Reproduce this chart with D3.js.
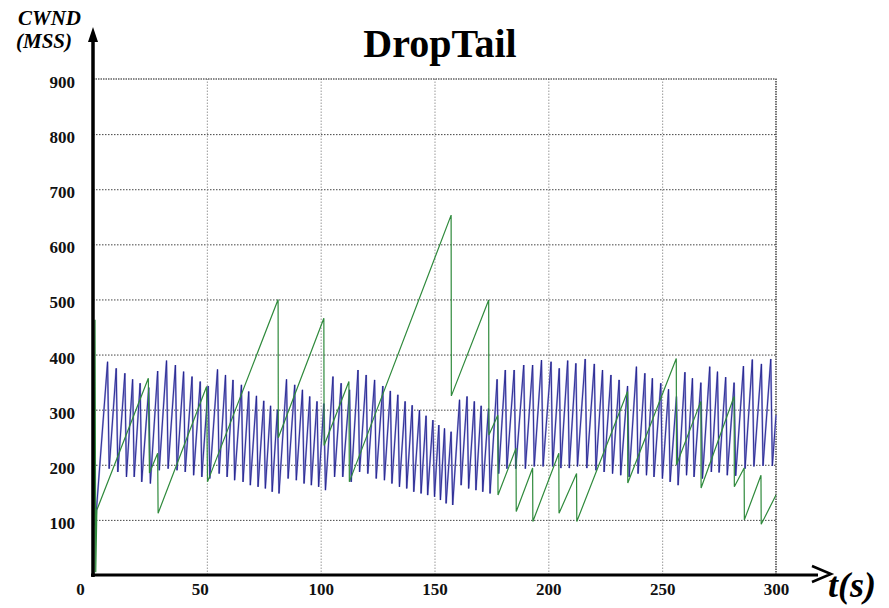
<!DOCTYPE html>
<html>
<head>
<meta charset="utf-8">
<script src="https://cdn.jsdelivr.net/npm/d3@7"></script>
<style>
	body { margin: 0; background: #fff; }
	svg { display: block; }
	text { font-family: 'Liberation Serif', 'Times New Roman', serif; }
	.tick text { font-size: 17px; font-weight: bold; fill: #111; }
</style>
</head>
<body>
<svg id="svgChart" width="889" height="608"></svg>
<script>
'use strict';

const chartTitle = 'DropTail';
const xTicks = [0, 50, 100, 150, 200, 250, 300];
const yTicks = [100, 200, 300, 400, 500, 600, 700, 800, 900];

// blue flow: peaks and troughs of each sawtooth, [t (s), cwnd (MSS)]
const bluePeaks = [
	[6.4, 387], [10.2, 375], [14.0, 366], [17.4, 355], [20.7, 348], [24.5, 340], [28.4, 370], [32.3, 389],
	[36.2, 381], [39.8, 369], [43.5, 360], [47.1, 351], [50.6, 343],
	[54.7, 373], [58.2, 363], [61.5, 354], [65.2, 345], [68.4, 333], [71.8, 325], [75.0, 316], [78.0, 307],
	[81.0, 300], [85.0, 355], [88.6, 345], [92.0, 336], [95.2, 324], [98.4, 315], [101.4, 311],
	[105.4, 360], [109.0, 348], [112.7, 336], [116.4, 372], [120.0, 363], [123.7, 354], [127.3, 343], [130.6, 334],
	[133.9, 327], [137.1, 315], [140.2, 308], [143.4, 299], [146.3, 289], [149.3, 281], [151.9, 272],
	[154.4, 266], [157.3, 260], [161.0, 318], [164.3, 324], [167.5, 315], [170.5, 307], [173.7, 302], [177.5, 355],
	[181.1, 372], [185.0, 372], [189.2, 381], [193.1, 381], [197.0, 390], [201.2, 387],
	[204.8, 375], [208.5, 389], [212.1, 384], [216.2, 392], [220.2, 383], [223.8, 372], [227.5, 363], [231.1, 354],
	[234.8, 343], [238.7, 378], [242.4, 366], [245.7, 357], [249.4, 348], [252.8, 337],
	[256.3, 324], [260.0, 368], [263.3, 357], [267.0, 349], [270.9, 378], [274.3, 369], [277.9, 359], [281.6, 349],
	[285.7, 379], [289.6, 391], [293.6, 383], [297.7, 392]
];
const blueTroughs = [
	[1.0, 90],
	[7.1, 193], [10.9, 187], [14.7, 178], [18.1, 178], [21.4, 169], [25.2, 166], [29.1, 190], [33.0, 193],
	[36.9, 190], [40.5, 187], [44.2, 181], [47.8, 178], [51.3, 175],
	[55.4, 184], [58.9, 178], [62.2, 172], [65.9, 169], [69.1, 163], [72.5, 160], [75.7, 157], [78.7, 151],
	[81.7, 148], [85.7, 175], [89.3, 172], [92.7, 166], [95.9, 163], [99.1, 160], [102.1, 154],
	[106.1, 178], [109.7, 178], [113.4, 169], [117.1, 187], [120.7, 184], [124.4, 175], [128.0, 172], [131.3, 166],
	[134.6, 160], [137.8, 157], [140.9, 151], [144.1, 148], [147.0, 145], [150.0, 142], [152.6, 136],
	[155.1, 130], [158.0, 127], [161.7, 163], [165.0, 157], [168.2, 154], [171.2, 151], [174.4, 148], [178.2, 184],
	[181.8, 193], [185.7, 193], [189.9, 193], [193.8, 197], [197.7, 197], [201.9, 197],
	[205.5, 194], [209.2, 194], [212.8, 197], [216.9, 194], [220.9, 190], [224.5, 187], [228.2, 184], [231.8, 181],
	[235.5, 178], [239.4, 184], [243.1, 181], [246.4, 178], [250.1, 175], [253.5, 169],
	[257.0, 163], [260.7, 181], [264.0, 178], [267.7, 175], [271.6, 187], [275.0, 186], [278.6, 181], [282.3, 180],
	[286.4, 193], [290.3, 197], [294.3, 198], [298.4, 198],
	[300.0, 290]
];

// green flow, [t (s), cwnd (MSS)]
const greenSeries = [
	[0.4, 0], [0.9, 463], [1.2, 5], [1.7, 118], [24.3, 357], [24.8, 185], [28.4, 221], [28.6, 112],
	[49.9, 342], [50.3, 169], [81.3, 500], [81.4, 249], [101.4, 466], [101.5, 235], [112.4, 351], [112.6, 169],
	[157.3, 653], [157.4, 325], [173.8, 499], [173.9, 254], [177.8, 290], [177.9, 145], [185.8, 230], [185.9, 115],
	[193.1, 194], [193.2, 97], [204.6, 221], [204.7, 112], [212.4, 184], [212.5, 97], [234.8, 333], [234.9, 167],
	[256.2, 393], [256.3, 200], [267.0, 315], [267.1, 158], [281.6, 324], [281.7, 160], [286.0, 194], [286.1, 100],
	[293.4, 181], [293.5, 92], [300.0, 145]
];

const blueSeries = bluePeaks.concat(blueTroughs).sort((a, b) => a[0] - b[0]);

const svg = d3.select('#svgChart');

const x = d3.scaleLinear()
	.domain([0, 300])
	.range([93, 776]);
const y = d3.scaleLinear()
	.domain([0, 900])
	.range([575, 79]);

// horizontal grid (dark dotted)
svg.append('g')
	.attr('transform', `translate(${x(0)},0)`)
	.call(d3.axisLeft(y).tickValues(yTicks.slice(0, -1)).tickSize(-(x(300) - x(0))).tickFormat(''))
	.call(g => g.select('.domain').remove())
	.selectAll('line')
	.attr('stroke', '#444')
	.attr('stroke-width', 1)
	.attr('stroke-dasharray', '1.5,1.5');

// vertical grid (light dotted)
svg.append('g')
	.attr('transform', `translate(0,${y(0)})`)
	.call(d3.axisTop(x).tickValues(xTicks.slice(1, -1)).tickSize(y(0) - y(900)).tickFormat(''))
	.call(g => g.select('.domain').remove())
	.selectAll('line')
	.attr('stroke', '#999')
	.attr('stroke-width', 1)
	.attr('stroke-dasharray', '1.5,1.5');

// top and right border
svg.append('path')
	.attr('d', `M${x(0)},${y(900)}H${x(300)}V${y(0)}`)
	.attr('fill', 'none')
	.attr('stroke', '#111')
	.attr('stroke-width', 1.2)
	.attr('stroke-dasharray', '1.5,1');

const line = d3.line()
	.x(d => x(d[0]))
	.y(d => y(d[1]));

svg.append('path')
	.datum(blueSeries)
	.attr('d', line)
	.attr('fill', 'none')
	.attr('stroke', '#a4a4dc')
	.attr('stroke-width', 1.9);
svg.append('path')
	.datum(blueSeries)
	.attr('d', line)
	.attr('fill', 'none')
	.attr('stroke', '#22228e')
	.attr('stroke-width', 0.9);

svg.append('path')
	.datum(greenSeries)
	.attr('d', line)
	.attr('fill', 'none')
	.attr('stroke', '#2f8a3c')
	.attr('stroke-width', 1.2);

// axes with arrows
svg.append('line')
	.attr('x1', 91).attr('y1', 575)
	.attr('x2', 818).attr('y2', 575)
	.attr('stroke', '#000')
	.attr('stroke-width', 3);
svg.append('path')
	.attr('d', 'M812,566L831,574L812,582')
	.attr('fill', 'none')
	.attr('stroke', '#000')
	.attr('stroke-width', 2.5);
svg.append('line')
	.attr('x1', 93).attr('y1', 577)
	.attr('x2', 93).attr('y2', 40)
	.attr('stroke', '#000')
	.attr('stroke-width', 3.5);
svg.append('path')
	.attr('d', 'M93,27L98,42L88,42Z')
	.attr('fill', '#000');

// tick labels
const yAxis = svg.append('g')
	.attr('transform', 'translate(75,3)')
	.call(d3.axisLeft(y).tickValues(yTicks).tickSize(0).tickPadding(0));
yAxis.select('.domain').remove();

const xAxis = svg.append('g')
	.attr('transform', 'translate(0,583)')
	.call(d3.axisBottom(x).tickValues(xTicks).tickSize(0).tickPadding(0));
xAxis.select('.domain').remove();
xAxis.selectAll('text')
	.attr('dx', d => d == 0 ? -13 : (d == 50 ? -7 : 0));

// titles
svg.append('text')
	.attr('x', 440)
	.attr('y', 57)
	.attr('text-anchor', 'middle')
	.attr('font-size', 40)
	.attr('font-weight', 'bold')
	.text(chartTitle);

svg.append('text')
	.attr('x', 18)
	.attr('y', 25)
	.attr('font-size', 21)
	.attr('font-weight', 'bold')
	.attr('font-style', 'italic')
	.text('CWND');
svg.append('text')
	.attr('x', 16)
	.attr('y', 48)
	.attr('font-size', 21)
	.attr('font-weight', 'bold')
	.attr('font-style', 'italic')
	.text('(MSS)');

svg.append('text')
	.attr('x', 828)
	.attr('y', 597)
	.attr('font-size', 36)
	.attr('font-weight', 'bold')
	.attr('font-style', 'italic')
	.text('t(s)');
</script>
</body>
</html>
